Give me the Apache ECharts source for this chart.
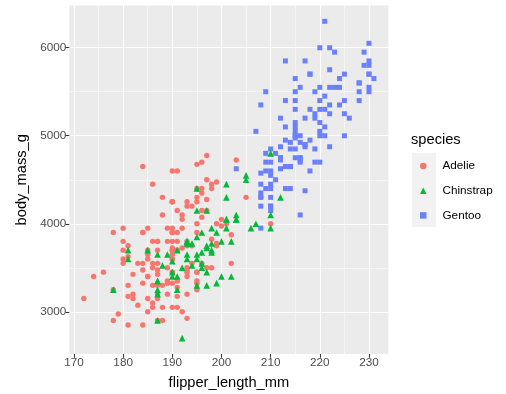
<!DOCTYPE html>
<html><head><meta charset="utf-8">
<script src="https://cdn.jsdelivr.net/npm/echarts@6/dist/echarts.min.js"></script>
<style>html,body{margin:0;padding:0;background:#fff}#c{width:506px;height:394px}</style>
</head><body><div id="c"></div>
<script>
// [flipper_length_mm, body_mass_g]
const adelie = [
[181,3750],[186,3800],[195,3250],[193,3450],[190,3650],[181,3625],[195,4675],[193,3475],[190,4250],[186,3300],
[180,3700],[182,3200],[191,3800],[198,4400],[185,3700],[195,3450],[197,4500],[184,3325],[194,4200],[174,3400],
[180,3600],[189,3800],[185,3950],[180,3800],[187,3800],[183,3550],[187,3200],[172,3150],[180,3950],[178,3250],
[178,3900],[188,3300],[184,3900],[195,3325],[196,4150],[190,3950],[180,3550],[181,3300],[184,4650],[182,3150],
[195,3900],[186,3100],[196,4400],[185,3000],[190,4600],[182,3425],[179,2975],[190,3450],[191,4150],[186,3500],
[188,4300],[190,3450],[200,4050],[187,2900],[191,3700],[186,3550],[193,3800],[181,2850],[194,3750],[185,3150],
[195,4400],[185,3600],[192,4050],[184,2850],[192,3950],[195,3350],[188,4100],[190,3050],[198,4450],[190,3600],
[190,3900],[196,3550],[197,4150],[190,3700],[195,4250],[191,3700],[184,3900],[187,3550],[195,4000],[189,3200],
[196,4700],[187,3800],[193,4200],[191,3350],[194,3550],[190,3800],[189,3500],[189,3950],[190,3600],[202,3550],
[205,4300],[185,3400],[186,4450],[187,3300],[208,4300],[190,3700],[196,4350],[178,2900],[192,4100],[192,3725],
[203,4725],[183,3075],[190,4250],[193,2925],[184,3550],[199,3750],[190,3900],[181,3175],[197,4775],[198,3825],
[191,4600],[193,3200],[197,4275],[191,3900],[196,4075],[188,2900],[199,3775],[189,3350],[189,3325],[187,3150],
[198,3500],[176,3450],[202,3875],[186,3050],[199,4000],[191,3275],[195,4300],[191,3050],[210,4000],[190,3325],
[197,3500],[193,3500],[199,4475],[187,3425],[190,3900],[191,3175],[200,3975],[185,3400],[193,4250],[193,3400],
[187,3475],[188,3050],[190,3725],[192,3000],[185,3650],[190,4250],[184,3475],[195,3450],[193,3750],[187,3700],
[201,4000]
];
const gentoo = [
[211,4500],[230,5700],[210,4450],[218,5700],[215,5400],[210,4550],[211,4800],[219,5200],[209,4400],[215,5150],
[214,4650],[216,5550],[214,4650],[213,5850],[210,4200],[217,5850],[210,4150],[221,6300],[209,4800],[222,5350],
[218,5700],[215,5000],[213,4400],[215,5050],[215,5000],[215,5100],[216,4100],[215,5650],[210,4600],[220,5550],
[222,5250],[209,4700],[207,5050],[230,6050],[220,5150],[220,5400],[213,4950],[219,5250],[208,4350],[208,5350],
[208,3950],[225,5700],[210,4300],[216,4750],[222,5550],[217,4900],[210,4200],[225,5400],[213,5100],[215,5300],
[210,4850],[220,5300],[210,4400],[225,5000],[217,4900],[220,5050],[208,4300],[220,5000],[208,4450],[224,5550],
[208,4200],[221,5300],[214,4400],[231,5650],[219,4700],[230,5700],[214,4650],[229,5800],[220,4700],[223,5550],
[216,4750],[221,5000],[221,5100],[217,5200],[216,4700],[230,5800],[209,4600],[220,6000],[215,4750],[223,5950],
[212,4625],[221,5450],[212,4725],[224,5350],[212,4750],[228,5600],[218,4600],[218,5300],[212,4875],[230,5550],
[218,4950],[228,5400],[212,4750],[224,5650],[214,4850],[226,5200],[216,4925],[222,4875],[203,4625],[225,5250],
[219,4850],[228,5600],[215,4975],[228,5500],[216,4725],[215,5500],[210,4700],[219,5500],[208,4575],[209,5500],
[216,5000],[229,5950],[213,4650],[230,5500],[217,4375],[230,5850],[217,4875],[222,6000],[214,4925],[215,4850],
[222,5750],[212,5200],[213,5400]
];
const chinstrap = [
[192,3500],[196,3900],[193,3650],[188,3525],[197,3725],[198,3950],[178,3250],[197,3750],[195,4150],[198,3700],
[193,3800],[194,3775],[185,3700],[201,4050],[190,3575],[201,4050],[197,3300],[181,3700],[190,3450],[195,4400],
[181,3600],[191,3400],[187,2900],[193,3800],[195,3300],[197,4150],[200,3400],[200,3800],[191,3700],[205,4550],
[187,3200],[201,4300],[187,3350],[203,4100],[195,3600],[199,3900],[195,3850],[210,4800],[192,2700],[205,4500],
[210,3950],[187,3650],[196,3550],[196,3500],[196,3675],[201,4450],[190,3400],[212,4300],[187,3250],[198,3675],
[199,3325],[201,3950],[193,3600],[203,4050],[187,3350],[197,3450],[191,3250],[203,4050],[202,3800],[194,3525],
[206,3950],[189,3650],[195,3650],[207,4000],[202,3400],[193,3775],[210,4100],[198,3775]
];
const species = ['Adelie', 'Chinstrap', 'Gentoo'];
const xTicks = [170, 180, 190, 200, 210, 220, 230];
const xMinor = [175, 185, 195, 205, 215, 225];
const yTicks = [3000, 4000, 5000, 6000];
const yMinor = [3500, 4500, 5500];

const FONT = '"Liberation Sans", Arial, Helvetica, sans-serif';
const chart = echarts.init(document.getElementById('c'), null, {renderer: 'canvas'});

const gridData = [].concat(
  xMinor.map(v => ({xAxis: v, lineStyle: {width: 0.53}})),
  yMinor.map(v => ({yAxis: v, lineStyle: {width: 0.53}})),
  xTicks.map(v => ({xAxis: v, lineStyle: {width: 1.07}})),
  yTicks.map(v => ({yAxis: v, lineStyle: {width: 1.07}}))
);

const option = {
  animation: false,
  backgroundColor: '#ffffff',
  title: {
    text: 'species', left: 411, top: 132, padding: 0,
    textStyle: {fontSize: 14.67, fontWeight: 'normal', color: '#000', fontFamily: FONT}
  },
  graphic: [{
    type: 'rect', left: 412, top: 153, z: 0,
    shape: {width: 24, height: 74}, style: {fill: '#F2F2F2'}
  }],
  legend: {
    data: species, orient: 'vertical', left: 420, top: 159, padding: 0,
    itemWidth: 6.5, itemHeight: 6.5, itemGap: 10.7, selectedMode: false,
    textStyle: {fontSize: 11.73, color: '#000', fontFamily: FONT, lineHeight: 14, padding: [0, 0, 0, 11]}
  },
  grid: {
    left: 69.3, top: 5.5, width: 319.1, height: 348.5,
    show: true, backgroundColor: '#EBEBEB', borderWidth: 0,
    containLabel: false, outerBoundsMode: 'none'
  },
  xAxis: {
    type: 'value', min: 169.05, max: 233.95,
    name: 'flipper_length_mm', nameLocation: 'middle', nameGap: 21,
    nameTextStyle: {fontSize: 14.67, color: '#000', fontFamily: FONT},
    axisLine: {show: false}, splitLine: {show: false},
    axisTick: {show: true, length: 3.7, lineStyle: {color: '#333333', width: 1.07}, customValues: xTicks},
    axisLabel: {customValues: xTicks, color: '#4D4D4D', fontSize: 11.73, margin: 3, fontFamily: FONT,
      formatter: v => String(v)}
  },
  yAxis: {
    type: 'value', min: 2520, max: 6480,
    name: 'body_mass_g', nameLocation: 'middle', nameGap: 36,
    nameTextStyle: {fontSize: 14.67, color: '#000', fontFamily: FONT},
    axisLine: {show: false}, splitLine: {show: false},
    axisTick: {show: true, length: 3.7, lineStyle: {color: '#333333', width: 1.07}, customValues: yTicks},
    axisLabel: {customValues: yTicks, color: '#4D4D4D', fontSize: 11.73, margin: 3, fontFamily: FONT,
      formatter: v => String(v)}
  },
  series: [
    {
      type: 'scatter', data: [], silent: true, z: 0,
      markLine: {
        silent: true, z: 0, symbol: ['none', 'none'], label: {show: false}, animation: false,
        lineStyle: {color: '#ffffff', type: 'solid', width: 1.07},
        emphasis: {disabled: true},
        data: gridData
      }
    },
    {name: 'Adelie', type: 'scatter', data: adelie, symbol: 'circle', symbolSize: 5.4, z: 3,
      itemStyle: {color: '#F8766D', opacity: 1}},
    {name: 'Gentoo', type: 'scatter', data: gentoo, symbol: 'rect', symbolSize: 5, z: 3,
      itemStyle: {color: '#6B80FF', opacity: 1}},
    {name: 'Chinstrap', type: 'scatter', data: chinstrap, symbol: 'triangle', symbolSize: 6.6, z: 3,
      itemStyle: {color: '#00BA38', opacity: 1}}
  ]
};
chart.setOption(option);
</script>
</body></html>
